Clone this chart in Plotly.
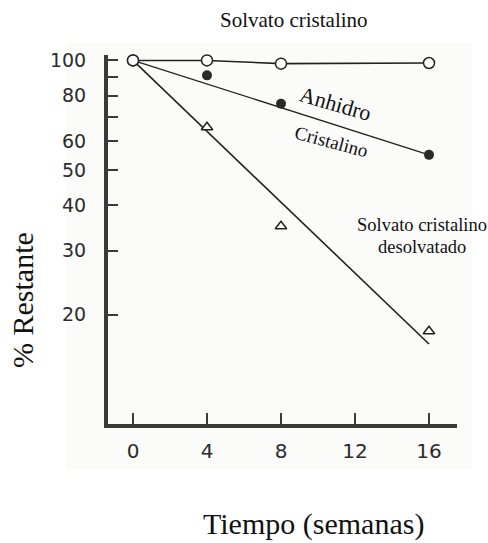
import plotly.graph_objects as go

# Stability data: % remaining vs. time in weeks
semanas = [0, 4, 8, 16]
solvato_cristalino = [100, 100, 98, 98.4]
anhidro_cristalino = [100, 91, 76, 55]
solvato_desolvatado = [100, 65.5, 35, 18]

# First-order (log-linear) fit lines drawn through the data
ajuste_semanas = [0, 16]
ajuste_anhidro = [100, 55]
ajuste_desolvatado = [100, 16.6]

y_tickvals = [20, 30, 40, 50, 60, 70, 80, 90, 100]
y_ticktext = ["20", "30", "40", "50", "60", "", "80", "", "100"]
x_tickvals = [0, 4, 8, 12, 16]

W, H = 488, 543
L, R, T, B = 108, 31, 55, 119
PW, PH = W - L - R, H - T - B

def px(x):
    return (x - L) / PW

def py(y):
    return (H - B - y) / PH

INK = "#222222"
AXIS = "#3a3a3a"
SERIF = "Liberation Serif, Times New Roman, serif"

fig = go.Figure()

# Solvato cristalino: open circles joined by a line
fig.add_trace(go.Scatter(
    x=semanas, y=solvato_cristalino, mode="lines+markers",
    line=dict(color=INK, width=1.6),
    marker=dict(symbol="circle", size=11, color="white",
                line=dict(color=INK, width=1.5)),
    showlegend=False, cliponaxis=False))

# Anhidro cristalino: fitted line + filled circles
fig.add_trace(go.Scatter(
    x=ajuste_semanas, y=ajuste_anhidro, mode="lines",
    line=dict(color=INK, width=1.3), showlegend=False))
fig.add_trace(go.Scatter(
    x=semanas[1:], y=anhidro_cristalino[1:], mode="markers",
    marker=dict(symbol="circle", size=10, color="#2a2a2a"),
    showlegend=False))

# Solvato cristalino desolvatado: fitted line + open triangles
fig.add_trace(go.Scatter(
    x=ajuste_semanas, y=ajuste_desolvatado, mode="lines",
    line=dict(color=INK, width=1.6), showlegend=False))
fig.add_trace(go.Scatter(
    x=semanas[1:], y=solvato_desolvatado[1:], mode="markers",
    marker=dict(symbol="triangle-up", size=10, color="white",
                line=dict(color=INK, width=1.5)),
    showlegend=False))

# Starting point shared by all series (drawn last so it sits on top)
fig.add_trace(go.Scatter(
    x=semanas[:1], y=solvato_cristalino[:1], mode="markers",
    marker=dict(symbol="circle", size=11, color="white",
                line=dict(color=INK, width=1.5)),
    showlegend=False, cliponaxis=False))

x0 = 133
ppw = 18.5
fig.update_xaxes(
    range=[(L - x0) / ppw, (W - R - x0) / ppw],
    tickvals=x_tickvals, ticks="inside", ticklen=11, tickwidth=1.5,
    tickcolor=AXIS, showline=True, linewidth=3.5, linecolor=AXIS,
    showgrid=False, zeroline=False,
    tickfont=dict(family="DejaVu Sans", size=20, color="#2b2b2b"),
    ticklabelstandoff=6)

fig.update_yaxes(
    type="log", range=[1.0, 2.015],
    tickvals=y_tickvals, ticktext=y_ticktext,
    ticks="inside", ticklen=10, tickwidth=1.8, tickcolor=AXIS,
    showline=True, linewidth=4, linecolor=AXIS,
    showgrid=False, zeroline=False,
    tickfont=dict(family="DejaVu Sans", size=19, color="#2b2b2b"),
    ticklabelstandoff=14)

ann = [
    dict(text="Solvato cristalino", x=px(294), y=py(20), size=21, angle=0),
    dict(text="Anhidro", x=px(335), y=py(103), size=22, angle=16),
    dict(text="Cristalino", x=px(331), y=py(141), size=19, angle=15),
    dict(text="Solvato cristalino", x=px(422), y=py(225), size=18.5, angle=0),
    dict(text="desolvatado", x=px(422), y=py(247), size=18.5, angle=0),
    dict(text="% Restante", x=px(22), y=py(300), size=30, angle=-90),
    dict(text="Tiempo (semanas)", x=px(313), y=py(524), size=30, angle=0),
]
for a in ann:
    fig.add_annotation(
        text=a["text"], x=a["x"], y=a["y"], xref="paper", yref="paper",
        xanchor="center", yanchor="middle", showarrow=False,
        textangle=a["angle"],
        font=dict(family=SERIF, size=a["size"], color="#111111"))

# Paper tone of the scanned plate behind the axes
fig.add_shape(type="rect", xref="paper", yref="paper",
              x0=px(66), x1=px(472), y0=py(470), y1=py(42),
              fillcolor="#fbfbfa", line=dict(width=0), layer="below")

fig.update_layout(
    width=W, height=H,
    margin=dict(l=L, r=R, t=T, b=B),
    paper_bgcolor="white", plot_bgcolor="rgba(0,0,0,0)",
    showlegend=False)

fig.write_html("out.html")
